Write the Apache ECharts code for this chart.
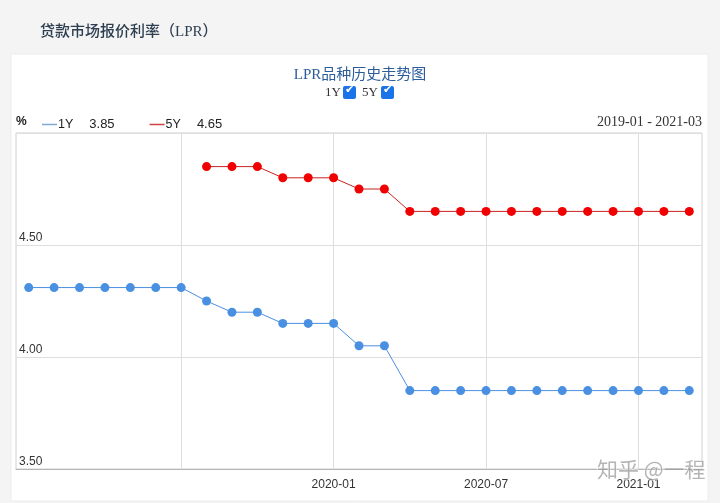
<!DOCTYPE html>
<html>
<head>
<meta charset="utf-8">
<script src="https://cdn.jsdelivr.net/npm/echarts@6/dist/echarts.min.js"></script>
<style>html,body{margin:0;padding:0;background:#f4f4f4;}#c{width:720px;height:503px;}</style>
</head>
<body>
<div id="c"></div>
<script>
const months = ['2019-01','2019-02','2019-03','2019-04','2019-05','2019-06','2019-07','2019-08','2019-09','2019-10','2019-11','2019-12',
  '2020-01','2020-02','2020-03','2020-04','2020-05','2020-06','2020-07','2020-08','2020-09','2020-10','2020-11','2020-12',
  '2021-01','2021-02','2021-03'];
const lpr1Y = [4.31,4.31,4.31,4.31,4.31,4.31,4.31,4.25,4.20,4.20,4.15,4.15,4.15,4.05,4.05,3.85,3.85,3.85,3.85,3.85,3.85,3.85,3.85,3.85,3.85,3.85,3.85];
const lpr5Y = [null,null,null,null,null,null,null,4.85,4.85,4.85,4.80,4.80,4.80,4.75,4.75,4.65,4.65,4.65,4.65,4.65,4.65,4.65,4.65,4.65,4.65,4.65,4.65];
const yTicks = [3.5, 4.0, 4.5, 5.0];

const last1 = lpr1Y[lpr1Y.length-1].toFixed(2);
const last5 = lpr5Y[lpr5Y.length-1].toFixed(2);
const serif = '"Liberation Serif","Noto Sans CJK SC",serif';
const sans = '"Liberation Sans",Arial,sans-serif';

const chart = echarts.init(document.getElementById('c'));
chart.setOption({
  backgroundColor: '#f4f4f4',
  animation: false,
  graphic: [
    {type:'rect', z:-100, shape:{x:11,y:54,width:697,height:447}, style:{fill:'#ffffff', stroke:'#ececec', lineWidth:1}},
    {type:'text', left:40, top:25, style:{text:'贷款市场报价利率（LPR）', fill:'#2c3e50', font:'500 15px '+serif}},
    {type:'text', left:325, top:86, style:{text:'1Y', fill:'#333', font:'13px '+serif}},
    {type:'rect', shape:{x:343,y:86,width:13,height:13,r:2}, style:{fill:'#1a73e8'}},
    {type:'text', left:345, top:85, style:{text:'✔', fill:'#fff', font:'bold 11px "DejaVu Sans"'}},
    {type:'text', left:362, top:86, style:{text:'5Y', fill:'#333', font:'13px '+serif}},
    {type:'rect', shape:{x:381,y:86,width:13,height:13,r:2}, style:{fill:'#1a73e8'}},
    {type:'text', left:383, top:85, style:{text:'✔', fill:'#fff', font:'bold 11px "DejaVu Sans"'}},
    {type:'text', left:16, top:116, style:{text:'%', fill:'#222', font:'bold 12px '+sans}},
    {type:'text', right:18, top:115, style:{text:months[0]+' - '+months[months.length-1], fill:'#333', font:'14px '+serif}},
    {type:'text', right:14, top:458, z:100, style:{text:'知乎 @一程', fill:'rgba(120,120,120,0.55)', stroke:'rgba(255,255,255,0.8)', lineWidth:1, font:'21px "Noto Sans CJK SC"'}}
  ],
  title: {
    text: 'LPR品种历史走势图', left: 'center', top: 63,
    textStyle: {color:'#2b5c9c', fontSize:15, fontWeight:'normal', fontFamily: serif}
  },
  legend: {
    left: 37, top: 113, itemGap: 35, itemWidth: 15, itemHeight: 1.5,
    data: [{name:'1Y', icon:'rect', itemStyle:{color:'#7fa9d6'}}, {name:'5Y', icon:'rect', itemStyle:{color:'#d24040'}}],
    formatter: function(name){ return '{n|' + name + '}{v|' + (name==='1Y'?last1:last5) + '}'; },
    textStyle: {
      color:'#222', fontSize:12, fontFamily: sans, padding:[0,0,0,-4],
      rich: { n:{fontSize:12.5, fontFamily:sans, color:'#222'}, v:{fontSize:13, fontFamily:sans, color:'#222', padding:[0,0,0,16]} }
    }
  },
  grid: {left:16, right:18, top:133, bottom:34, show:true, borderColor:'#d0d0d0', borderWidth:1, backgroundColor:'transparent'},
  xAxis: {
    type: 'category', data: months, boundaryGap: true,
    axisLine: {show:true, lineStyle:{color:'#b5b5b5'}},
    axisTick: {show:false},
    axisLabel: {color:'#333', fontSize:12, fontFamily:sans, margin:10,
      interval: function(i){ return i % 6 === 0 && i >= 12; }},
    splitLine: {show:true, alignWithLabel:true, interval: function(i){ return i % 6 === 0 && i > 0; },
      lineStyle:{color:'#dedede'}}
  },
  yAxis: {
    type: 'value', min: yTicks[0], max: yTicks[yTicks.length-1], interval: 0.5,
    axisLine: {show:false}, axisTick: {show:false},
    axisLabel: {inside:true, showMaxLabel:false, margin:3, verticalAlign:'bottom', padding:[0,0,1,0],
      color:'#333', fontSize:12, fontFamily:sans, formatter: v => v.toFixed(2)},
    splitLine: {show:true, lineStyle:{color:'#dedede'}}
  },
  series: [
    {name:'1Y', type:'line', data:lpr1Y, symbol:'circle', symbolSize:9,
      itemStyle:{color:'#4a90e2'}, lineStyle:{color:'#4a90e2', width:1}},
    {name:'5Y', type:'line', data:lpr5Y, symbol:'circle', symbolSize:9,
      itemStyle:{color:'#f00000'}, lineStyle:{color:'#cc2020', width:1}}
  ]
});
</script>
</body>
</html>
